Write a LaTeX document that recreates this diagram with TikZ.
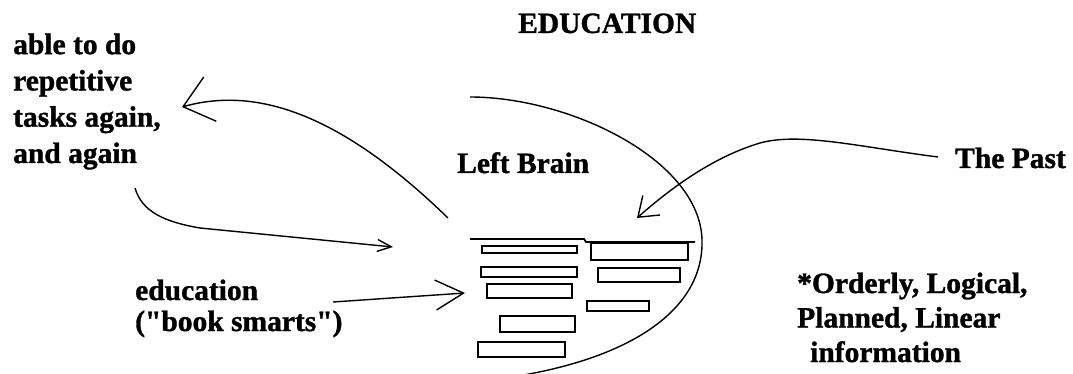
\documentclass[tikz,border=0pt]{standalone}
\usepackage{fontspec}
\setmainfont{Liberation Serif}
\newfontfamily\heavyserif[FakeBold=1.2]{Liberation Serif Bold}
\usetikzlibrary{arrows.meta}
\begin{document}
\begin{tikzpicture}[x=1pt,y=-1pt,
  lbl/.style={font=\heavyserif\fontsize{29.5}{36.3}\selectfont, inner sep=0pt, align=left, anchor=base west},
  conn/.style={line width=1.4pt},
  bar/.style={line width=1.8pt},
  outline/.style={line width=1.4pt}]
\useasboundingbox (0,0) rectangle (1073,374);
\clip (0,0) rectangle (1073,374);
% texts (base anchor = baseline of the last line)
\node[lbl] (title) at (518,33) {EDUCATION};
\node[lbl] (rep) at (13,163) {able to do\\repetitive\\tasks again,\\and again};
\node[lbl] (brain) at (457,173) {Left Brain};
\node[lbl] (past) at (955,168) {The Past};
\node[lbl, font=\heavyserif\fontsize{29.5}{31}\selectfont] (edu) at (135,331) {education\\(\textquotedbl book smarts\textquotedbl)};
\node[lbl, font=\heavyserif\fontsize{29.5}{34.5}\selectfont] (ord) at (797,362) {*Orderly, Logical,\\Planned, Linear\\\hspace*{13pt}information};
% brain outline
\draw[outline] (470,97) .. controls (570,97) and (700,160) .. (702,240)
  .. controls (704,310) and (630,360) .. (505,378);
\draw[bar] (470,239) -- (584,239) -- (586,242) -- (695,242);
% bars
\draw[bar] (482,246) rectangle (577,253);
\draw[bar] (481,267) rectangle (577,277);
\draw[bar] (487,284) rectangle (572,298);
\draw[bar] (500,316) rectangle (575,332);
\draw[bar] (478,342) rectangle (565,357);
\draw[bar] (591,243) rectangle (688,260);
\draw[bar] (598,268) rectangle (680,282);
\draw[bar] (587,301) rectangle (649,311);
% connector ends
\coordinate (repTail) at (448,218);
\coordinate (repTip) at (182,107);
\coordinate (againTail) at (135,188);
\coordinate (againTip) at (393,247);
\coordinate (eduTail) at (333,302);
\coordinate (eduTip) at (465,293);
\coordinate (pastTail) at (938,157);
\coordinate (pastTip) at (637,218);
% connectors
\draw[conn, -{Straight Barb[length=28pt,width=46pt]}] (repTail) .. controls (345,118) and (260,85) .. (repTip);
\draw[conn, -{Straight Barb[length=14pt,width=12pt]}] (againTail) .. controls (142,212) and (165,222) .. (200,228) -- (againTip);
\draw[conn, -{Straight Barb[length=28pt,width=30pt]}] (eduTail) -- (eduTip);
\draw[conn, -{Straight Barb[length=18pt,width=26pt]}] (pastTail) .. controls (860,147) and (800,132) .. (760,143)
  .. controls (720,155) and (680,180) .. (pastTip);
\end{tikzpicture}
\end{document}
